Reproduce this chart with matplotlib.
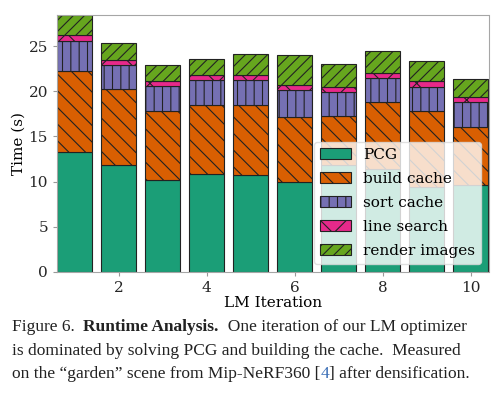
import numpy as np
import matplotlib
matplotlib.use("Agg")
import matplotlib.pyplot as plt


iterations = [1, 2, 3, 4, 5, 6, 7, 8, 9, 10]
pcg = [13.3, 11.8, 10.15, 10.8, 10.75, 10.0, 11.8, 11.4, 9.4, 9.6]
build_cache = [9.0, 8.45, 7.7, 7.7, 7.75, 7.2, 5.5, 7.4, 8.4, 6.5]
sort_cache = [3.35, 2.7, 2.75, 2.8, 2.8, 3.0, 2.65, 2.7, 2.75, 2.7]
line_search = [0.65, 0.55, 0.55, 0.5, 0.5, 0.55, 0.6, 0.6, 0.65, 0.6]
render_images = [2.2, 1.85, 1.8, 1.8, 2.4, 3.35, 2.5, 2.45, 2.15, 1.95]

labels = ["PCG", "build cache", "sort cache", "line search", "render images"]
colors = ["#1b9e77", "#d95f02", "#7570b3", "#e7298a", "#66a61e"]
hatches = ["", "\\\\", "||", "x", "///"]

plt.rcParams["font.family"] = "DejaVu Serif"
plt.rcParams["hatch.linewidth"] = 0.8

fig = plt.figure(figsize=(5.0, 3.93), dpi=100)
ax = fig.add_axes([0.114, 0.309, 0.863, 0.653])

bottom = np.zeros(len(iterations))
for vals, lab, col, hat in zip(
    [pcg, build_cache, sort_cache, line_search, render_images], labels, colors, hatches
):
    ax.bar(iterations, vals, width=0.8, bottom=bottom, color=col, hatch=hat,
           edgecolor="#222222", linewidth=0.8, label=lab)
    bottom += np.array(vals)

ax.margins(x=0, y=0)
ax.set_xticks([2, 4, 6, 8, 10])
ax.set_yticks([0, 5, 10, 15, 20, 25])
ax.tick_params(labelsize=11, color="0.6", length=3, colors="0.15")
for sp in ax.spines.values():
    sp.set_color("0.65")
    sp.set_linewidth(0.8)
ax.set_xlabel("LM Iteration", fontsize=11, labelpad=1)
ax.set_ylabel("Time (s)", fontsize=11, labelpad=2)

leg = ax.legend(loc="lower right", fontsize=11, framealpha=0.8, borderaxespad=0.5,
                labelspacing=0.65)
leg.get_frame().set_edgecolor("0.85")

# caption below the chart
cap_size = 12.5
lines = [
    [("Figure 6.  ", "normal", "#222222"), ("Runtime Analysis.", "bold", "#222222"),
     ("  One iteration of our LM optimizer", "normal", "#222222")],
    [("is dominated by solving PCG and building the cache.  Measured", "normal", "#222222")],
    [("on the \u201cgarden\u201d scene from Mip-NeRF360 [", "normal", "#222222"),
     ("4", "normal", "#3b6fb6"), ("] after densification.", "normal", "#222222")],
]
baselines = [0.158, 0.096, 0.038]

renderer = fig.canvas.get_renderer()
for parts, yb in zip(lines, baselines):
    x = 12 / 500
    for txt, weight, col in parts:
        t = fig.text(x, yb, txt, family="Liberation Serif", size=cap_size,
                     weight=weight, color=col, va="baseline", ha="left")
        bb = t.get_window_extent(renderer=renderer)
        x += bb.width / fig.bbox.width

fig.savefig("out.png", dpi=100)
